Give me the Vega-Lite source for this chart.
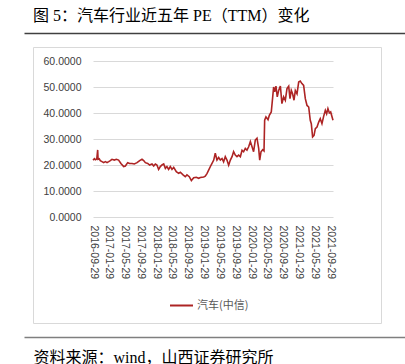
{
  "$schema": "https://vega.github.io/schema/vega-lite/v6.json",
  "width": 348,
  "height": 276,
  "autosize": {"type": "none"},
  "padding": {"left": 33, "top": 47, "right": 24, "bottom": 41},
  "background": "white",
  "config": {"view": {"stroke": "#d9d9d9", "strokeWidth": 1}, "font": "Liberation Sans"},
  "title": {"text": "图 5：汽车行业近五年 PE（TTM）变化", "anchor": "start", "frame": "group", "font": "Liberation Serif, Noto Sans CJK SC", "fontSize": 16, "fontWeight": "normal", "color": "#000000", "offset": 9},
  "data": {"values": [
    {"date": "2016-09-29", "pe": 21.9}, {"date": "2016-10-10", "pe": 22.4}, {"date": "2016-10-17", "pe": 22.0}, {"date": "2016-10-28", "pe": 22.3},
    {"date": "2016-11-04", "pe": 25.8}, {"date": "2016-11-07", "pe": 22.2}, {"date": "2016-11-16", "pe": 22.4}, {"date": "2016-11-24", "pe": 21.7},
    {"date": "2016-12-07", "pe": 21.3}, {"date": "2016-12-20", "pe": 20.9}, {"date": "2017-01-02", "pe": 21.3}, {"date": "2017-01-15", "pe": 20.9},
    {"date": "2017-01-28", "pe": 21.3}, {"date": "2017-02-09", "pe": 21.7}, {"date": "2017-02-22", "pe": 22.2}, {"date": "2017-03-12", "pe": 21.9},
    {"date": "2017-03-28", "pe": 22.2}, {"date": "2017-04-14", "pe": 21.9}, {"date": "2017-05-02", "pe": 20.6}, {"date": "2017-05-23", "pe": 19.4},
    {"date": "2017-06-05", "pe": 19.6}, {"date": "2017-06-23", "pe": 20.9}, {"date": "2017-07-08", "pe": 20.6}, {"date": "2017-07-26", "pe": 20.6},
    {"date": "2017-08-13", "pe": 20.4}, {"date": "2017-09-03", "pe": 20.9}, {"date": "2017-09-23", "pe": 21.7}, {"date": "2017-10-11", "pe": 22.2},
    {"date": "2017-10-24", "pe": 21.7}, {"date": "2017-11-06", "pe": 20.9}, {"date": "2017-11-24", "pe": 20.6}, {"date": "2017-12-09", "pe": 20.0},
    {"date": "2017-12-27", "pe": 20.4}, {"date": "2018-01-09", "pe": 19.6}, {"date": "2018-01-22", "pe": 20.4}, {"date": "2018-02-03", "pe": 20.0},
    {"date": "2018-02-16", "pe": 18.3}, {"date": "2018-03-01", "pe": 19.4}, {"date": "2018-03-14", "pe": 20.0}, {"date": "2018-03-27", "pe": 20.4},
    {"date": "2018-04-09", "pe": 18.7}, {"date": "2018-04-21", "pe": 19.4}, {"date": "2018-05-04", "pe": 18.3}, {"date": "2018-05-17", "pe": 19.4},
    {"date": "2018-05-30", "pe": 18.3}, {"date": "2018-06-12", "pe": 19.1}, {"date": "2018-07-02", "pe": 17.4}, {"date": "2018-07-20", "pe": 16.8},
    {"date": "2018-08-02", "pe": 17.2}, {"date": "2018-08-23", "pe": 16.2}, {"date": "2018-09-09", "pe": 15.5}, {"date": "2018-09-22", "pe": 16.2},
    {"date": "2018-10-10", "pe": 15.5}, {"date": "2018-10-26", "pe": 14.0}, {"date": "2018-11-13", "pe": 15.1}, {"date": "2018-12-03", "pe": 15.3},
    {"date": "2018-12-21", "pe": 14.9}, {"date": "2019-01-03", "pe": 15.2}, {"date": "2019-01-29", "pe": 15.4}, {"date": "2019-02-10", "pe": 15.7},
    {"date": "2019-02-23", "pe": 16.7}, {"date": "2019-03-08", "pe": 18.0}, {"date": "2019-03-26", "pe": 19.9}, {"date": "2019-04-16", "pe": 21.9},
    {"date": "2019-04-28", "pe": 24.5}, {"date": "2019-05-11", "pe": 21.9}, {"date": "2019-05-24", "pe": 22.9}, {"date": "2019-06-06", "pe": 21.9},
    {"date": "2019-06-19", "pe": 22.5}, {"date": "2019-07-01", "pe": 21.2}, {"date": "2019-07-14", "pe": 23.2}, {"date": "2019-07-27", "pe": 21.9},
    {"date": "2019-08-09", "pe": 19.9}, {"date": "2019-08-22", "pe": 21.9}, {"date": "2019-09-04", "pe": 23.2}, {"date": "2019-09-16", "pe": 25.1},
    {"date": "2019-09-29", "pe": 23.8}, {"date": "2019-10-12", "pe": 23.2}, {"date": "2019-10-25", "pe": 23.8}, {"date": "2019-11-07", "pe": 23.2},
    {"date": "2019-11-20", "pe": 25.7}, {"date": "2019-12-02", "pe": 25.1}, {"date": "2019-12-15", "pe": 26.4}, {"date": "2019-12-28", "pe": 25.7},
    {"date": "2020-01-10", "pe": 27.0}, {"date": "2020-01-23", "pe": 29.0}, {"date": "2020-02-05", "pe": 27.0}, {"date": "2020-02-17", "pe": 25.1},
    {"date": "2020-03-01", "pe": 29.6}, {"date": "2020-03-14", "pe": 30.3}, {"date": "2020-03-27", "pe": 26.4}, {"date": "2020-04-04", "pe": 21.9},
    {"date": "2020-04-14", "pe": 25.1}, {"date": "2020-04-27", "pe": 25.9}, {"date": "2020-05-07", "pe": 25.4}, {"date": "2020-05-12", "pe": 37.2},
    {"date": "2020-05-22", "pe": 38.5}, {"date": "2020-06-07", "pe": 37.4}, {"date": "2020-06-17", "pe": 39.1}, {"date": "2020-07-02", "pe": 40.4},
    {"date": "2020-07-13", "pe": 46.2}, {"date": "2020-07-20", "pe": 50.0}, {"date": "2020-07-28", "pe": 48.1}, {"date": "2020-08-07", "pe": 50.3},
    {"date": "2020-08-17", "pe": 46.2}, {"date": "2020-08-28", "pe": 48.7}, {"date": "2020-09-10", "pe": 50.4}, {"date": "2020-09-22", "pe": 43.6},
    {"date": "2020-10-05", "pe": 46.2}, {"date": "2020-10-18", "pe": 44.9}, {"date": "2020-10-31", "pe": 49.4}, {"date": "2020-11-13", "pe": 50.3},
    {"date": "2020-11-23", "pe": 45.5}, {"date": "2020-12-03", "pe": 48.7}, {"date": "2020-12-13", "pe": 47.4}, {"date": "2020-12-24", "pe": 44.9},
    {"date": "2021-01-03", "pe": 48.7}, {"date": "2021-01-16", "pe": 47.4}, {"date": "2021-01-29", "pe": 51.9}, {"date": "2021-02-10", "pe": 52.3},
    {"date": "2021-02-23", "pe": 51.3}, {"date": "2021-03-08", "pe": 50.6}, {"date": "2021-03-21", "pe": 45.5}, {"date": "2021-04-03", "pe": 42.9},
    {"date": "2021-04-16", "pe": 42.3}, {"date": "2021-04-28", "pe": 37.2}, {"date": "2021-05-06", "pe": 35.9}, {"date": "2021-05-16", "pe": 30.8},
    {"date": "2021-05-27", "pe": 31.4}, {"date": "2021-06-06", "pe": 34.0}, {"date": "2021-06-19", "pe": 34.6}, {"date": "2021-07-02", "pe": 36.5},
    {"date": "2021-07-14", "pe": 37.8}, {"date": "2021-07-27", "pe": 35.9}, {"date": "2021-08-09", "pe": 38.7}, {"date": "2021-08-22", "pe": 41.0},
    {"date": "2021-09-01", "pe": 39.7}, {"date": "2021-09-11", "pe": 41.7}, {"date": "2021-09-22", "pe": 40.0}, {"date": "2021-10-02", "pe": 40.4},
    {"date": "2021-10-20", "pe": 37.2}
  ]},
  "layer": [
    {
      "mark": {"type": "line", "strokeWidth": 1.6},
      "encoding": {
        "x": {
          "field": "date", "type": "temporal",
          "scale": {"type": "utc", "domain": [{"year": 2016, "month": 9, "date": 29, "utc": true}, {"year": 2021, "month": 10, "date": 20, "utc": true}], "range": [60, 300]},
          "axis": {
            "orient": "bottom", "offset": -106,
            "values": [
              {"year": 2016, "month": 9, "date": 29, "utc": true}, {"year": 2017, "month": 1, "date": 29, "utc": true},
              {"year": 2017, "month": 5, "date": 29, "utc": true}, {"year": 2017, "month": 9, "date": 29, "utc": true},
              {"year": 2018, "month": 1, "date": 29, "utc": true}, {"year": 2018, "month": 5, "date": 29, "utc": true},
              {"year": 2018, "month": 9, "date": 29, "utc": true}, {"year": 2019, "month": 1, "date": 29, "utc": true},
              {"year": 2019, "month": 5, "date": 29, "utc": true}, {"year": 2019, "month": 9, "date": 29, "utc": true},
              {"year": 2020, "month": 1, "date": 29, "utc": true}, {"year": 2020, "month": 5, "date": 29, "utc": true},
              {"year": 2020, "month": 9, "date": 29, "utc": true}, {"year": 2021, "month": 1, "date": 29, "utc": true},
              {"year": 2021, "month": 5, "date": 29, "utc": true}, {"year": 2021, "month": 9, "date": 29, "utc": true}
            ],
            "labelExpr": "utcFormat(datum.value, '%Y-%m-%d')",
            "labelAngle": 90, "labelAlign": "left", "labelBaseline": "middle", "labelPadding": 8,
            "labelFont": "Liberation Sans", "labelFontSize": 10.5, "labelColor": "#404040",
            "labelOverlap": false, "labelBound": false, "labelFlush": false,
            "ticks": false, "domain": false, "grid": false,
            "title": "资料来源：wind，山西证券研究所", "titleX": 0, "titleY": 140, "titleAlign": "left", "titleAnchor": "start", "titleBaseline": "middle",
            "titleFont": "Liberation Serif, Noto Sans CJK SC", "titleFontSize": 16, "titleFontWeight": "normal", "titleColor": "#000000"
          }
        },
        "y": {
          "field": "pe", "type": "quantitative",
          "scale": {"domain": [0, 60], "range": [170, 14], "nice": false, "zero": true},
          "axis": {
            "orient": "left", "offset": -48, "values": [0, 10, 20, 30, 40, 50, 60], "format": ".4f",
            "grid": true, "gridColor": "#d9d9d9", "gridWidth": 1, "ticks": false, "tickSize": 0, "domain": false,
            "labelPadding": 0, "labelFont": "Liberation Sans", "labelFontSize": 10.5, "labelColor": "#404040", "title": null
          }
        },
        "color": {
          "datum": "汽车(中信)",
          "scale": {"range": ["#ad2424"]},
          "legend": {
            "orient": "none", "legendX": 136, "legendY": 246, "title": null, "padding": 0,
            "symbolType": "stroke", "symbolSize": 529, "symbolStrokeWidth": 2,
            "labelFont": "Noto Sans CJK SC", "labelFontSize": 11, "labelColor": "#595959", "labelOffset": 3
          }
        }
      }
    },
    {
      "mark": {"type": "line", "strokeOpacity": 0},
      "encoding": {
        "x": {"field": "date", "type": "temporal", "scale": {"type": "utc", "range": [-9, 372]}, "axis": null},
        "y": {
          "field": "pe", "type": "quantitative",
          "scale": {"domain": [0, 1], "range": [290, -14], "nice": false, "zero": false, "clamp": true},
          "axis": {
            "orient": "left", "values": [0, 1], "grid": true,
            "gridColor": {"condition": {"test": "datum.value == 1", "value": "#404040"}, "value": "#7f7f7f"},
            "gridWidth": 1.6, "labels": false, "ticks": false, "domain": false, "title": null
          }
        }
      }
    }
  ],
  "resolve": {"scale": {"x": "independent", "y": "independent"}, "axis": {"x": "independent", "y": "independent"}}
}
